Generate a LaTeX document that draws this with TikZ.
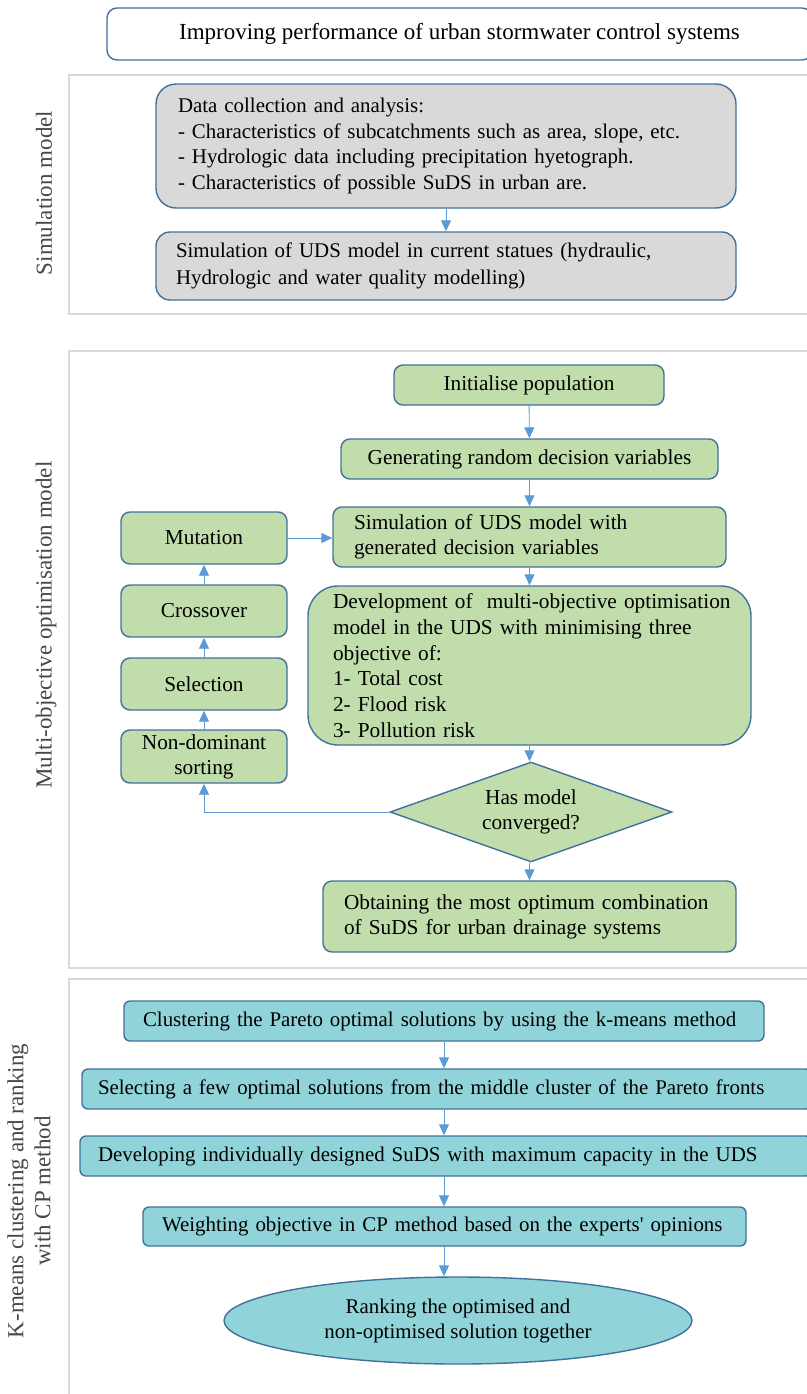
\documentclass[tikz,border=0pt]{standalone}
\usepackage{fontspec}
\setmainfont{Liberation Serif}
\usetikzlibrary{shapes.geometric,arrows.meta}
\definecolor{bordblue}{HTML}{41719C}
\definecolor{arrblue}{HTML}{5B9BD5}
\definecolor{boxgray}{HTML}{D9D9D9}
\definecolor{framegray}{HTML}{D9D9D9}
\definecolor{boxgreen}{HTML}{C0DDAB}
\definecolor{boxteal}{HTML}{90D3D9}
\newcommand{\fsA}{\fontsize{21.3}{25.6}\selectfont}
\newcommand{\fsT}{\fontsize{20.9}{25}\selectfont}
\newcommand{\fsS}{\fontsize{20.9}{25.7}\selectfont}
\tikzset{
  base/.style={draw=bordblue, line width=1.4pt, inner sep=0pt, anchor=center},
  graybox/.style={base, fill=boxgray, rounded corners=20pt, font=\fsS, align=left},
  greenbox/.style={base, fill=boxgreen, rounded corners=9pt, font=\fsA},
  tealbox/.style={base, fill=boxteal, rounded corners=6pt, font=\fsT, align=left},
  flow/.style={draw=arrblue, line width=0.9pt, -{Triangle[length=11pt,width=10pt]}},
  frameline/.style={draw=framegray, line width=2.2pt},
  seclabel/.style={rotate=90, anchor=center, font=\fontsize{23}{27}\selectfont, text=black!72},
}
\begin{document}
\begin{tikzpicture}[x=1pt,y=-1pt]
\useasboundingbox (0,0) rectangle (806,1394);
% frames
\draw[frameline] (810,75) -- (69,75) -- (69,314) -- (810,314);
\draw[frameline] (810,351) -- (69,351) -- (69,968) -- (810,968);
\draw[frameline] (810,979) -- (69,979) -- (69,1400);
% section labels
\node[seclabel] (lab1) at (44,193) {Simulation model};
\node[seclabel] (lab2) at (46,625) {Multi-objective optimisation model};
\node[seclabel, align=center] (lab3) at (29,1191) {K-means clustering and ranking\\with CP method};
% top
\node[base, fill=white, rounded corners=10pt, minimum width=705, minimum height=52, font=\fontsize{23}{27}\selectfont] (top) at (459.5,34) {Improving performance of urban stormwater control systems};
% section 1
\node[graybox, minimum width=580, minimum height=124, text width=536] (data) at (446,146) {Data collection and analysis:\\- Characteristics of subcatchments such as area, slope, etc.\\- Hydrologic data including precipitation hyetograph.\\- Characteristics of possible SuDS in urban are.};
\node[graybox, rounded corners=14pt, minimum width=580, minimum height=68, text width=540, font=\fontsize{20.9}{27}\selectfont] (sim1) at (446,266) {Simulation of UDS model in current statues (hydraulic,\\Hydrologic and water quality modelling)};
\draw[flow] (data.south) -- (sim1.north);
% section 2
\node[greenbox, minimum width=270, minimum height=40] (init) at (529,385) {Initialise population};
\node[greenbox, minimum width=377, minimum height=40] (gen) at (529.5,459) {Generating random decision variables};
\node[greenbox, minimum width=393, minimum height=60, text width=351, align=left, font=\fontsize{21.3}{25}\selectfont] (sim2) at (529.5,537) {\mbox{Simulation of UDS model with}\\\mbox{generated decision variables}};
\node[greenbox, rounded corners=30pt, minimum width=443, minimum height=159, text width=393, align=left, font=\fontsize{21.3}{25.8}\selectfont] (dev) at (529.5,665.5) {\mbox{Development of \ multi-objective optimisation}\\\mbox{model in the UDS with minimising three}\\objective of:\\1- Total cost\\2- Flood risk\\3- Pollution risk};
\node[base, diamond, fill=boxgreen, minimum width=282, minimum height=100, aspect=2.82, align=center, font=\fontsize{21.3}{25}\selectfont] (conv) at (531,812) {Has model\\converged?};
\node[greenbox, minimum width=413, minimum height=71, text width=371, align=left, font=\fontsize{21.3}{25}\selectfont] (obt) at (529.5,916.5) {\mbox{Obtaining the most optimum combination}\\\mbox{of SuDS for urban drainage systems}};
\node[greenbox, minimum width=166, minimum height=52] (mut) at (204,538) {Mutation};
\node[greenbox, minimum width=166, minimum height=52] (cross) at (204,611) {Crossover};
\node[greenbox, minimum width=166, minimum height=52] (sel) at (204,684) {Selection};
\node[greenbox, minimum width=166, minimum height=53, align=center, font=\fontsize{21.3}{25}\selectfont] (nds) at (204,756.5) {Non-dominant\\sorting};
\draw[flow] (init) -- (gen);
\draw[flow] (gen.south) -- (sim2.north -| gen.south);
\draw[flow] (sim2.south -| gen.south) -- (dev.north -| gen.south);
\draw[flow] (dev.south -| gen.south) -- (conv.north -| gen.south);
\draw[flow] (conv.south -| gen.south) -- (obt.north -| gen.south);
\draw[flow] (nds) -- (sel);
\draw[flow] (sel) -- (cross);
\draw[flow] (cross) -- (mut);
\draw[flow] (mut.east) -- (sim2.west |- mut.east);
\draw[flow] (conv.west) -| (nds.south);
% section 3
\node[tealbox, minimum width=640, minimum height=40, text width=602] (clu) at (444,1021) {\mbox{Clustering the Pareto optimal solutions by using the k-means method}};
\node[tealbox, minimum width=730, minimum height=40, text width=698] (selc) at (447,1089) {\mbox{Selecting a few optimal solutions from the middle cluster of the Pareto fronts}};
\node[tealbox, minimum width=732, minimum height=40, text width=696] (devl) at (446,1156) {\mbox{Developing individually designed SuDS with maximum capacity in the UDS}};
\node[tealbox, minimum width=603, minimum height=39, text width=565] (wgt) at (444.5,1226.5) {\mbox{Weighting objective in CP method based on the experts\textquotesingle{} opinions}};
\node[base, ellipse, fill=boxteal, minimum width=468, minimum height=87, align=center, font=\fontsize{20.9}{25}\selectfont] (rank) at (458,1320.5) {Ranking the optimised and\\non-optimised solution together};
\draw[flow] (clu.south) -- (selc.north -| clu.south);
\draw[flow] (selc.south -| clu.south) -- (devl.north -| clu.south);
\draw[flow] (devl.south -| clu.south) -- (wgt.north -| clu.south);
\draw[flow] (wgt.south -| clu.south) -- (rank.north -| clu.south);
\end{tikzpicture}
\end{document}
